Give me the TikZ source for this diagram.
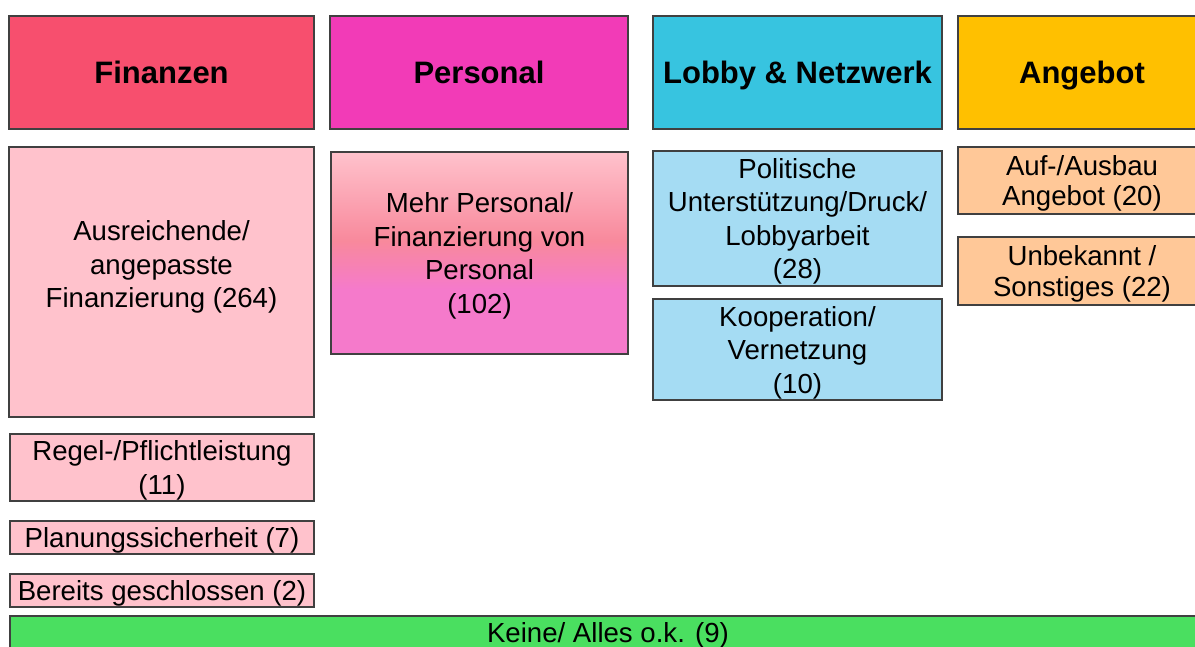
\documentclass[tikz,border=0pt]{standalone}
\usepackage{fontspec}
\setmainfont{Liberation Sans}
\usepackage{xcolor}
\definecolor{finanzen}{HTML}{F74F6E}
\definecolor{personal}{HTML}{F23BB7}
\definecolor{lobby}{HTML}{37C4E0}
\definecolor{angebot}{HTML}{FFC000}
\definecolor{finanzenhell}{HTML}{FFC2CC}
\definecolor{personalmitte}{HTML}{F8899C}
\definecolor{personalhell}{HTML}{F57ACB}
\definecolor{lobbyhell}{HTML}{A5DCF3}
\definecolor{angebothell}{HTML}{FFC898}
\definecolor{keine}{HTML}{4ADF60}
\definecolor{rahmen}{HTML}{404040}
\pgfdeclareverticalshading{personalverlauf}{100bp}{color(0bp)=(personalhell); color(41bp)=(personalhell); color(53bp)=(personalmitte); color(75bp)=(finanzenhell); color(100bp)=(finanzenhell)}
\newcommand{\zeilenstart}{\rule{0pt}{26pt}}
\tikzset{
  kasten/.style={draw=rahmen, line width=1.1pt, inner sep=0pt, align=center},
  kopf/.style={kasten, font=\fontsize{31}{36}\selectfont\bfseries, text height=22pt, text depth=0pt},
  eintrag/.style={kasten, font=\fontsize{27.6}{33.5}\selectfont},
  etikett/.style={align=center, inner sep=0pt, font=\fontsize{27.6}{33.5}\selectfont}
}

\begin{document}
\begin{tikzpicture}[x=1pt,y=-1pt]
		\useasboundingbox (0,0) rectangle (1195,646);
		
		% Kopfzeile
		\node[kopf, fill=finanzen, minimum width=305pt, minimum height=113pt] (finanzen) at (161.5,72.5) {Finanzen};
		\node[kopf, fill=personal, minimum width=298pt, minimum height=113pt] (personal) at (479,72.5) {Personal};
		\node[kopf, fill=lobby, minimum width=289pt, minimum height=113pt] (lobby) at (797.5,72.5) {Lobby \& Netzwerk};
		\node[kopf, fill=angebot, minimum width=248pt, minimum height=113pt] (angebot) at (1082,72.5) {Angebot};
		
		% Finanzen
		\node[kasten, fill=finanzenhell, minimum width=305pt, minimum height=270pt] (ausreichend) at (161.5,282) {};
		\node[etikett] (ausreichendtext) at (161.5,267) {Ausreichende/\\angepasste\\Finanzierung (264)};
		\node[eintrag, fill=finanzenhell, minimum width=304pt, minimum height=67pt] (regel) at (162,467.5) {\zeilenstart Regel-/Pflichtleistung\\(11)};
		\node[eintrag, fill=finanzenhell, minimum width=304pt, minimum height=33pt] (planung) at (162,537.5) {\zeilenstart Planungssicherheit (7)};
		\node[eintrag, fill=finanzenhell, minimum width=304pt, minimum height=33pt] (bereits) at (162,590.5) {\zeilenstart Bereits geschlossen (2)};
		
		% Personal
		\node[eintrag, shading=personalverlauf, minimum width=297pt, minimum height=202pt] (mehr) at (479.5,253) {\zeilenstart Mehr Personal/\\Finanzierung von\\Personal\\(102)};
		
		% Lobby
		\node[eintrag, fill=lobbyhell, minimum width=289pt, minimum height=135pt] (politik) at (797.5,218.5) {\zeilenstart Politische\\Unterstützung/Druck/\\Lobbyarbeit\\(28)};
		\node[eintrag, fill=lobbyhell, minimum width=289pt, minimum height=101pt] (kooperation) at (797.5,349.5) {\zeilenstart Kooperation/\\Vernetzung\\(10)};
		
		% Angebot
		\node[eintrag, fill=angebothell, minimum width=248pt, minimum height=67pt, font=\fontsize{27.6}{30.5}\selectfont] (ausbau) at (1082,180.5) {\zeilenstart Auf-/Ausbau\\Angebot (20)};
		\node[eintrag, fill=angebothell, minimum width=248pt, minimum height=68pt, font=\fontsize{27.6}{30.5}\selectfont] (unbekannt) at (1082,271) {\zeilenstart Unbekannt /\\Sonstiges (22)};
		
		% Keine
		\node[kasten, fill=keine, minimum width=1192pt, minimum height=50pt] (keine) at (606,641) {};
		\node[etikett] (keinetext) at (608,635) {Keine/ Alles o.k. (9)};
	\end{tikzpicture}
\end{document}
